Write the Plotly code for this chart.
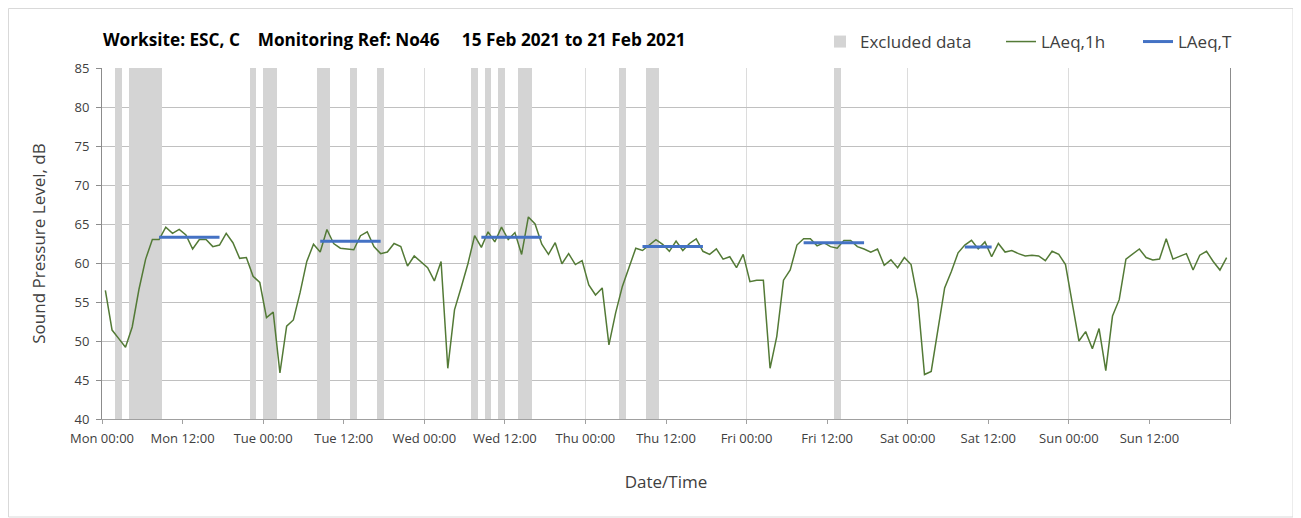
import plotly.graph_objects as go

# ---------------- data ----------------
# hourly LAeq,1h values, Mon 00:00 .. Sun 23:00 (plotted mid-hour)
hours = [h + 0.5 for h in range(168)]
laeq_1h = [
    56.5, 51.4, 50.3, 49.2, 51.8, 56.6, 60.5, 63.0, 63.0, 64.6,
    63.8, 64.3, 63.6, 61.8, 63.0, 63.0, 62.1, 62.3, 63.8, 62.6,
    60.6, 60.7, 58.3, 57.5, 53.0, 53.7, 45.9, 51.9, 52.7, 56.2,
    60.2, 62.4, 61.4, 64.3, 62.5, 61.9, 61.8, 61.7, 63.5, 64.0,
    62.1, 61.2, 61.4, 62.5, 62.1, 59.6, 60.9, 60.1, 59.4, 57.7,
    60.2, 46.5, 54.0, 56.9, 59.9, 63.5, 62.0, 64.0, 62.7, 64.6,
    63.0, 63.9, 61.1, 65.9, 65.0, 62.4, 61.1, 62.6, 59.9, 61.2,
    59.8, 60.3, 57.2, 55.9, 56.8, 49.5, 53.6, 57.0, 59.6, 61.9,
    61.6, 62.3, 63.0, 62.4, 61.5, 62.8, 61.6, 62.5, 63.1, 61.5,
    61.1, 61.8, 60.5, 60.8, 59.4, 61.1, 57.6, 57.8, 57.8, 46.5,
    50.6, 57.8, 59.1, 62.3, 63.1, 63.1, 62.2, 62.6, 62.1, 61.9,
    62.9, 62.9, 62.1, 61.8, 61.4, 61.8, 59.7, 60.4, 59.4, 60.7,
    59.8, 55.3, 45.7, 46.1, 51.5, 56.8, 58.9, 61.3, 62.3, 62.9,
    61.8, 62.7, 60.8, 62.5, 61.4, 61.6, 61.2, 60.9, 61.0, 60.9,
    60.3, 61.5, 61.1, 59.8, 54.9, 50.0, 51.2, 49.0, 51.6, 46.2,
    53.2, 55.3, 60.5, 61.2, 61.8, 60.7, 60.4, 60.5, 63.1, 60.5,
    60.9, 61.2, 59.1, 61.0, 61.5, 60.2, 59.1, 60.7,
]

# excluded periods (hours from Mon 00:00)
excl_start = [2, 4, 22, 24, 32, 37, 41, 55, 57, 59, 62, 77, 81, 109]
excl_end = [3, 9, 23, 26, 34, 38, 42, 56, 58, 60, 64, 78, 83, 110]

# LAeq,T daytime periods
laeqT_start = [8.5, 32.5, 56.5, 80.5, 104.5, 128.5]
laeqT_end = [17.5, 41.5, 65.5, 89.5, 113.5, 132.5]
laeqT_val = [63.3, 62.8, 63.3, 62.1, 62.6, 62.05]

tick_hours = list(range(0, 169, 12))
tick_labels = ["Mon 00:00", "Mon 12:00", "Tue 00:00", "Tue 12:00", "Wed 00:00",
               "Wed 12:00", "Thu 00:00", "Thu 12:00", "Fri 00:00", "Fri 12:00",
               "Sat 00:00", "Sat 12:00", "Sun 00:00", "Sun 12:00", ""]
day_grid = list(range(24, 168, 24))

Y_MIN, Y_MAX = 40, 85

# ---------------- layout helpers ----------------
# page has an 8px body margin, so figure coords = page coords - 8
OFF = 8
W, H = 1301, 518
PL, PR, PT, PB = 102, 1230, 68, 419          # plot box in page pixels
ML, MT = PL - OFF, PT - OFF
PW, PH = PR - PL, PB - PT
MR, MB = W - ML - PW, H - MT - PH


def px_x(px):
    return (px - PL) / PW


def px_y(py):
    return (PB - py) / PH


FONT = "Open Sans"
TXT = "#404040"

fig = go.Figure()

fig.add_trace(go.Bar(
    x=[(s + e) / 2 for s, e in zip(excl_start, excl_end)],
    y=[Y_MAX - Y_MIN] * len(excl_start),
    base=Y_MIN,
    width=[e - s for s, e in zip(excl_start, excl_end)],
    marker=dict(color="#d4d4d4", line=dict(width=0)),
    name="Excluded data",
    legend="legend",
))

fig.add_trace(go.Scatter(
    x=hours, y=laeq_1h, mode="lines",
    line=dict(color="#537a36", width=1.5),
    name="LAeq,1h",
    legend="legend2",
))

bx, by = [], []
for s, e, v in zip(laeqT_start, laeqT_end, laeqT_val):
    bx += [s, e, None]
    by += [v, v, None]
fig.add_trace(go.Scatter(
    x=bx, y=by, mode="lines",
    line=dict(color="#4472c4", width=3),
    name="LAeq,T",
    legend="legend3",
))

leg_common = dict(orientation="h", yanchor="middle", y=px_y(42), xanchor="left",
                  bgcolor="rgba(0,0,0,0)", font=dict(family=FONT, size=17, color=TXT))

fig.update_layout(
    width=W, height=H,
    margin=dict(l=ML, r=MR, t=MT, b=MB, autoexpand=False),
    paper_bgcolor="white", plot_bgcolor="white",
    barmode="overlay", bargap=0,
    font=dict(family=FONT, color=TXT),
    title=dict(
        text="Worksite: ESC, C\u00a0\u00a0\u00a0\u00a0Monitoring Ref: No46\u00a0\u00a0\u00a0\u00a0 15 Feb 2021 to 21 Feb 2021",
        x=(103 - OFF) / W, xanchor="left", xref="container",
        y=1 - (40 - OFF) / H, yanchor="middle", yref="container",
        font=dict(family=FONT, size=17.2, color="#000000", weight="bold"),
    ),
    legend=dict(**{**leg_common, "x": px_x(820)}),
    legend2=dict(**{**leg_common, "x": px_x(1001)}),
    legend3=dict(**{**leg_common, "x": px_x(1138)}),
    showlegend=True,
    xaxis=dict(
        range=[0, 168], automargin=False,
        tickmode="array", tickvals=tick_hours, ticktext=tick_labels,
        showgrid=False,
        minor=dict(tickmode="array", tickvals=day_grid, showgrid=True,
                   gridcolor="#dcdcdc", gridwidth=1, ticks=""),
        showline=True, linecolor="#a0a0a0", linewidth=1,
        ticks="outside", ticklen=4, tickcolor="#a0a0a0", ticklabelstandoff=3,
        tickfont=dict(family=FONT, size=13, color=TXT),
        title=dict(text="Date/Time", font=dict(family=FONT, size=17, color=TXT), standoff=30),
        zeroline=False,
    ),
    yaxis=dict(
        range=[Y_MIN, Y_MAX], dtick=5, tick0=40, automargin=False,
        showgrid=True, gridcolor="#c0c0c0", gridwidth=1,
        showline=True, linecolor="#8c8c8c", linewidth=1, mirror=True,
        ticks="outside", ticklen=5, tickcolor="#8c8c8c", ticklabelstandoff=4,
        tickfont=dict(family=FONT, size=13, color=TXT),
        title=dict(text="Sound Pressure Level, dB", font=dict(family=FONT, size=17, color=TXT), standoff=24),
        zeroline=False,
    ),
    shapes=[dict(type="rect", xref="paper", yref="paper",
                 x0=px_x(OFF + 0.5), x1=px_x(1293), y0=px_y(517), y1=px_y(OFF + 0.5),
                 line=dict(color="#d9d9d9", width=1), fillcolor="rgba(0,0,0,0)", layer="below")],
)

fig.write_html("out.html")
